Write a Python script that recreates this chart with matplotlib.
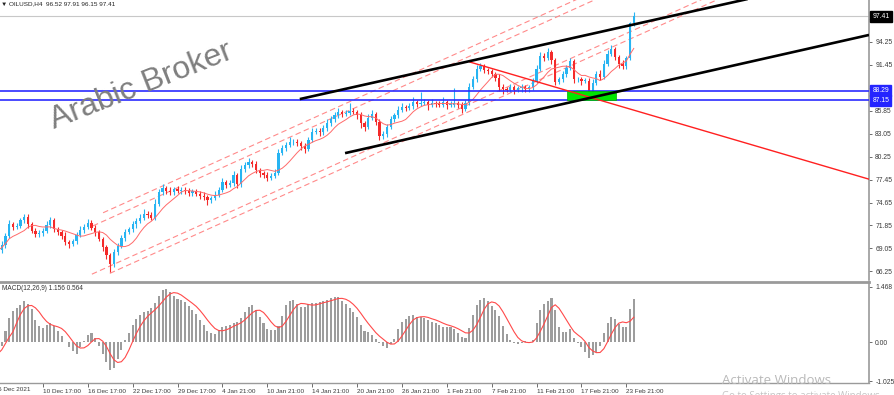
import numpy as np
import pandas as pd
import matplotlib
matplotlib.use("Agg")
import matplotlib.pyplot as plt
from matplotlib.patches import Rectangle

plt.rcParams["font.family"] = ["Liberation Sans", "DejaVu Sans"]

# ---------------- data ----------------
header_text = "OILUSD,H4  96.52 97.91 96.15 97.41"
macd_text = "MACD(12,26,9) 1.156 0.564"

first_open = 68.4
closes = [
    68.8, 69.5, 70.6, 72.0, 71.7, 71.8, 72.5, 72.9, 72.0, 71.2,
    70.8, 70.9, 71.2, 71.9, 72.5, 71.4, 71.0, 70.6, 69.8, 69.6,
    69.9, 70.7, 71.3, 71.7, 72.2, 71.6, 71.0, 70.2, 69.2, 68.2,
    67.2, 68.6, 69.4, 70.3, 71.1, 71.4, 72.0, 72.4, 72.8, 73.3,
    73.1, 72.8, 74.5, 75.9, 76.4, 76.1, 75.9, 76.3, 76.1, 76.2,
    76.0, 75.8, 76.0, 75.7, 75.5, 75.3, 74.9, 75.2, 75.6, 76.2,
    77.1, 76.8, 77.0, 78.0, 76.9, 78.7, 79.2, 79.6, 79.4, 78.6,
    78.2, 78.0, 77.7, 77.9, 78.3, 80.7, 81.3, 81.7, 82.0, 82.1,
    81.9, 81.5, 81.2, 82.3, 83.3, 83.4, 83.2, 83.7, 84.3, 84.8,
    85.3, 85.7, 85.5, 85.6, 85.8, 85.7, 85.3, 84.3, 83.9, 85.0,
    85.4, 84.5, 82.8, 83.0, 83.9, 84.8, 85.3, 86.0, 86.3, 86.2,
    86.4, 86.9, 86.7, 86.8, 86.9, 86.6, 86.8, 86.7, 86.6, 86.9,
    86.6, 86.6, 86.8, 86.6, 86.1, 86.8, 88.8, 89.7, 91.0, 91.3,
    90.8, 90.7, 90.3, 89.9, 88.8, 88.5, 88.4, 88.7, 88.4, 88.6,
    88.7, 88.5, 88.7, 89.5, 91.0, 92.6, 92.3, 93.0, 92.0, 89.4,
    89.7, 90.3, 91.1, 91.9, 89.7, 89.7, 89.5, 89.5, 88.2, 89.3,
    90.4, 90.0, 91.6, 92.8, 93.4, 92.4, 91.6, 91.3, 92.3, 96.52,
    97.41]

upper_wicks = [
    0.3, 0.4, 0.3, 0.5, 0.3, 0.4, 0.3, 0.4, 0.3, 0.3,
    0.3, 0.4, 0.3, 0.5, 0.4, 0.3, 0.3, 0.3, 0.4, 0.3,
    0.3, 0.4, 0.5, 0.3, 0.4, 0.3, 0.3, 0.3, 0.3, 0.3,
    0.3, 0.4, 0.3, 0.4, 0.3, 0.3, 0.4, 0.3, 0.4, 0.5,
    0.3, 0.4, 0.6, 0.4, 0.5, 0.3, 0.4, 0.3, 0.4, 0.3,
    0.3, 0.4, 0.3, 0.3, 0.3, 0.4, 0.3, 0.3, 0.4, 0.3,
    0.5, 0.3, 0.4, 0.5, 0.3, 0.5, 0.4, 0.5, 0.3, 0.3,
    0.3, 0.3, 0.4, 0.3, 0.4, 0.5, 0.4, 0.4, 0.6, 0.3,
    0.3, 0.3, 0.4, 0.4, 0.5, 0.3, 0.3, 0.4, 0.5, 0.4,
    0.4, 0.5, 0.3, 0.4, 1.0, 0.4, 0.3, 0.4, 0.3, 0.4,
    0.6, 0.3, 0.3, 0.4, 0.3, 0.4, 0.3, 0.4, 0.5, 0.3,
    0.4, 0.6, 0.3, 1.3, 0.4, 0.3, 0.5, 0.3, 0.4, 0.6,
    0.3, 0.4, 1.8, 0.3, 0.3, 0.4, 0.5, 0.4, 0.5, 0.4,
    0.3, 0.3, 0.3, 0.3, 0.4, 0.3, 0.3, 0.4, 0.3, 0.3,
    0.4, 0.3, 0.3, 0.4, 0.5, 0.4, 0.3, 0.5, 0.3, 0.3,
    0.3, 0.4, 0.3, 0.4, 0.3, 0.3, 0.3, 0.4, 0.3, 0.4,
    0.3, 0.4, 0.4, 0.5, 0.5, 0.3, 0.3, 0.4, 0.3, 0.2,
    0.5]

lower_wicks = [
    0.3, 0.3, 0.4, 0.3, 0.4, 0.3, 0.3, 0.3, 0.4, 0.3,
    0.4, 0.3, 0.3, 0.3, 0.3, 0.4, 0.3, 0.4, 0.3, 0.5,
    0.3, 0.3, 0.3, 0.4, 0.3, 0.3, 0.4, 0.3, 0.5, 0.4,
    1.0, 0.4, 0.3, 0.3, 0.4, 0.3, 0.3, 0.4, 0.3, 0.3,
    0.4, 0.3, 0.3, 0.3, 0.3, 0.4, 0.3, 0.3, 0.3, 0.4,
    0.3, 0.3, 0.4, 0.3, 0.4, 0.3, 0.6, 0.3, 0.3, 0.3,
    0.3, 0.4, 0.3, 0.3, 0.5, 0.3, 0.3, 0.3, 0.4, 0.3,
    0.4, 0.3, 0.4, 0.3, 0.3, 0.3, 0.3, 0.4, 0.3, 0.3,
    0.4, 0.4, 0.5, 0.3, 0.3, 0.3, 0.4, 0.3, 0.3, 0.3,
    0.3, 0.3, 0.4, 0.3, 0.3, 0.3, 0.4, 0.6, 0.5, 0.3,
    0.3, 0.4, 0.5, 0.4, 0.3, 0.3, 0.3, 0.3, 0.3, 0.4,
    0.3, 0.3, 0.4, 0.3, 0.3, 0.6, 0.3, 0.4, 0.3, 0.3,
    0.5, 0.3, 0.3, 0.4, 0.5, 0.3, 0.3, 0.3, 0.3, 0.3,
    0.3, 0.4, 0.3, 0.4, 0.5, 0.6, 0.3, 0.3, 0.5, 0.3,
    0.4, 0.3, 0.3, 0.3, 0.3, 0.3, 0.4, 0.3, 0.4, 0.4,
    0.3, 0.3, 0.3, 0.3, 0.4, 0.3, 0.5, 0.3, 0.7, 0.3,
    0.3, 0.4, 0.3, 0.3, 0.3, 0.4, 0.5, 0.4, 0.3, 0.2,
    0.37]

macd_hist = [
    -0.30, -0.10, 0.30, 0.65, 0.84, 0.91, 0.98, 1.08, 1.02, 0.88,
    0.60, 0.44, 0.38, 0.45, 0.50, 0.42, 0.30, 0.16, 0.02, -0.12,
    -0.24, -0.30, -0.12, 0.04, 0.18, 0.25, 0.12, -0.10, -0.30, -0.52,
    -0.72, -0.68, -0.45, -0.20, 0.05, 0.25, 0.45, 0.62, 0.72, 0.80,
    0.84, 0.90, 1.05, 1.22, 1.38, 1.42, 1.33, 1.22, 1.15, 1.13,
    1.06, 0.96, 0.85, 0.75, 0.60, 0.45, 0.30, 0.25, 0.23, 0.33,
    0.41, 0.42, 0.46, 0.50, 0.55, 0.65, 0.80, 0.93, 0.98, 0.85,
    0.68, 0.50, 0.36, 0.32, 0.32, 0.44, 0.70, 0.98, 1.10, 1.11,
    1.02, 0.93, 0.94, 1.00, 1.03, 1.05, 1.07, 1.08, 1.12, 1.18,
    1.21, 1.20, 1.10, 1.00, 0.92, 0.80, 0.68, 0.45, 0.30, 0.26,
    0.20, 0.08, -0.03, -0.10, -0.14, -0.05, 0.10, 0.36, 0.55, 0.62,
    0.70, 0.72, 0.67, 0.66, 0.64, 0.60, 0.54, 0.52, 0.46, 0.41,
    0.40, 0.40, 0.35, 0.24, 0.14, 0.12, 0.38, 0.72, 0.98, 1.12,
    1.17, 1.10, 0.97, 0.86, 0.70, 0.42, 0.22, 0.06, -0.02, -0.04,
    -0.02, 0.03, 0.01, 0.05, 0.50, 0.85, 1.02, 1.08, 1.16, 0.85,
    0.40, 0.26, 0.28, 0.36, 0.12, -0.02, -0.12, -0.25, -0.42, -0.33,
    -0.25, -0.10, 0.25, 0.50, 0.68, 0.62, 0.48, 0.41, 0.40, 0.87,
    1.156]

price_ticks = [97.05, 94.25, 91.45, 88.65, 85.85, 83.05, 80.25, 77.45, 74.65, 71.85, 69.05, 66.25]
macd_ticks = [1.468, 0.0, -1.025]
macd_tick_labels = ["1.468", "0.00", "-1.025"]
date_labels = ["6 Dec 2021", "10 Dec 17:00", "16 Dec 17:00", "22 Dec 17:00", "29 Dec 17:00",
               "4 Jan 21:00", "10 Jan 21:00", "14 Jan 21:00", "20 Jan 21:00", "26 Jan 21:00",
               "1 Feb 21:00", "7 Feb 21:00", "11 Feb 21:00", "17 Feb 21:00", "23 Feb 21:00"]
bars_per_label = 12

last_price = 97.41
levels = [88.29, 87.15]
# trend objects as (bar, price) anchors
black_upper = [(80.7, 87.28), (160.96, 95.47)]
black_lower = [(92.8, 80.68), (232.9, 95.11)]
red_line = [(126.2, 91.8), (232.9, 77.5)]
zone = [(152.1, 87.15), (165.2, 88.29)]
dash_slope = 0.2057
dash_starts = [(28.1, 73.4), (25.4, 71.8), (25.1, 65.9), (29.9, 66.0)]

# ---------------- figure ----------------
W, H = 895, 395
fig = plt.figure(figsize=(W / 100, H / 100), dpi=100)
fig.patch.set_facecolor("white")
ax_w = 869 / W
ax = fig.add_axes([0, 1 - 280 / H, ax_w, 280 / H])
axm = fig.add_axes([0, 1 - 383 / H, ax_w, 101 / H])

n = len(closes)
x = np.arange(n)
c = np.array(closes)
o = np.array([first_open] + closes[:-1])
hi = np.maximum(o, c) + np.array(upper_wicks)
lo = np.minimum(o, c) - np.array(lower_wicks)
bull = c >= o
bull_col, bear_col = "#27b4f2", "#f42a2a"
cols = np.where(bull, bull_col, bear_col)

xmin, xmax = 0.535, 232.9
ax.set_xlim(xmin, xmax)
ax.set_ylim(65.19, 99.378)
axm.set_xlim(xmin, xmax)
axm.set_ylim(-1.077, 1.595)

TICK_FS = 4.9
DATE_FS = 4.6
TXT_COL = "#3a3a3a"

# dashed channel lines
for (x0, y0) in dash_starts:
    ax.plot([x0, xmax], [y0, y0 + dash_slope * (xmax - x0)], color="#ff8a8a",
            lw=0.8, dashes=(5, 3), zorder=1)

# candles
ax.vlines(x, lo, hi, colors=cols, lw=0.8, zorder=2)
body = np.where(np.abs(c - o) < 0.05, 0.05, c - o)
ax.bar(x, body, bottom=o, width=0.6, color=cols, linewidth=0, zorder=2)

# moving average
ma = pd.Series(c).rolling(8, min_periods=1).mean()
ax.plot(x, ma, color="#ff6a6a", lw=0.7, zorder=3)

# bid line
ax.axhline(last_price, color="#c8c8c8", lw=0.8, zorder=0.5)

# horizontal levels
for lv in levels:
    ax.axhline(lv, color="#2b2bff", lw=1.2, zorder=4)

# zone
(zx0, zy0), (zx1, zy1) = zone
ax.add_patch(Rectangle((zx0, zy0), zx1 - zx0, zy1 - zy0, facecolor="#00e600",
                       edgecolor="#00b000", lw=0.5, zorder=4.5))

def ray(pts):
    (xa, ya), (xb, yb) = pts
    s = (yb - ya) / (xb - xa)
    return [xa, xmax], [ya, ya + s * (xmax - xa)]

for pts in (black_upper, black_lower):
    xs, ys = ray(pts)
    ax.plot(xs, ys, color="black", lw=1.9, zorder=6, solid_capstyle="butt")
xs, ys = ray(red_line)
ax.plot(xs, ys, color="#ff2020", lw=1.0, zorder=5)

# price axis styling
ax.yaxis.tick_right()
ax.set_yticks(price_ticks)
ax.set_yticklabels([f"{v:.2f}" for v in price_ticks])
ax.tick_params(axis="y", length=2, width=0.6, pad=2.5, labelsize=TICK_FS, colors="#555555",
               labelcolor=TXT_COL)
ax.set_xticks([])
for s in ("top", "left", "bottom"):
    ax.spines[s].set_visible(False)
ax.spines["right"].set_color("#9a9a9a")
ax.spines["right"].set_linewidth(1.2)

ytr = ax.get_yaxis_transform()
ax.text(1.004, last_price, f"{last_price:.2f}", transform=ytr, ha="left", va="center",
        fontsize=TICK_FS, color="white", zorder=10, clip_on=False,
        bbox=dict(boxstyle="square,pad=0.3", fc="black", ec="black"))
for lv in levels:
    ax.text(1.004, lv, f"{lv:.2f}", transform=ytr, ha="left", va="center",
            fontsize=TICK_FS, color="white", zorder=10, clip_on=False,
            bbox=dict(boxstyle="square,pad=0.3", fc="#2424ff", ec="#2424ff"))

ax.text(0.001, 0.996, "\u25bc " + header_text, transform=ax.transAxes, ha="left", va="top",
        fontsize=4.6, color="#222222", zorder=10,
        family=["DejaVu Sans"] if False else ["Liberation Sans", "DejaVu Sans"])

# watermark
fig.text(141 / W, 1 - 86 / H, "Arabic Broker", rotation=21.5, ha="center", va="center",
         fontsize=23, color="#7f7f7f", family="Liberation Sans", rotation_mode="anchor")

# ---------------- MACD ----------------
h = np.array(macd_hist)
signal = pd.Series(h).rolling(5, min_periods=1).mean()
axm.bar(x, h, width=0.55, color="#9d9d9d", linewidth=0, zorder=2)
axm.plot(x, signal, color="#ff4a4a", lw=0.8, zorder=3)

axm.yaxis.tick_right()
axm.set_yticks(macd_ticks)
axm.set_yticklabels(macd_tick_labels)
axm.tick_params(axis="y", length=2, width=0.6, pad=2.5, labelsize=TICK_FS, colors="#555555",
                labelcolor=TXT_COL)
label_pos = np.arange(len(date_labels)) * bars_per_label
axm.set_xticks(label_pos[1:])
axm.set_xticklabels(date_labels[1:])
axm.tick_params(axis="x", length=3, width=0.6, pad=1.0, labelsize=DATE_FS, colors="#555555",
                labelcolor=TXT_COL)
for lab in axm.get_xticklabels():
    lab.set_ha("left")
axm.text(label_pos[0], -0.035, date_labels[0], transform=axm.get_xaxis_transform(),
         ha="left", va="top", fontsize=DATE_FS, color=TXT_COL, clip_on=False)
axm.spines["left"].set_visible(False)
axm.spines["top"].set_color("#9a9a9a")
axm.spines["top"].set_linewidth(2.0)
axm.spines["right"].set_color("#9a9a9a")
axm.spines["right"].set_linewidth(1.2)
axm.spines["bottom"].set_color("#9a9a9a")
axm.spines["bottom"].set_linewidth(1.0)
axm.text(0.002, 0.975, macd_text, transform=axm.transAxes, ha="left", va="top",
         fontsize=4.7, color="#333333")

# OS overlay text
fig.text(722 / W, 1 - 380 / H, "Activate Windows", fontsize=9.5, color="#b9b9b9",
         family="Open Sans", ha="left", va="center")
fig.text(722 / W, 1 - 397 / H, "Go to Settings to activate Windows.", fontsize=7,
         color="#c4c4c4", family="Open Sans", ha="left", va="center")

fig.savefig("out.png", dpi=100, facecolor="white")
